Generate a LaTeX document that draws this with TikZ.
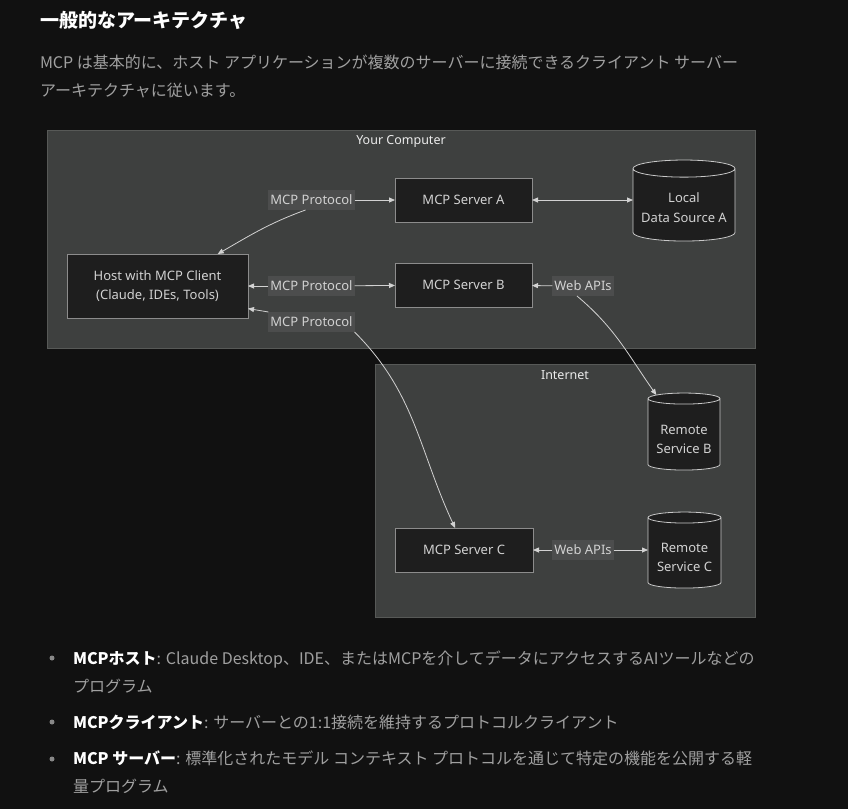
\documentclass[tikz,border=0pt]{standalone}
\usepackage{fontspec}
\setmainfont{Noto Sans}
\newfontfamily\jp{Noto Sans CJK JP}
\usepackage{tikz}
\usetikzlibrary{positioning, arrows.meta, shapes.geometric}
\definecolor{pagebg}{HTML}{111111}
\definecolor{groupbg}{HTML}{3E403F}
\definecolor{groupline}{HTML}{575957}
\definecolor{boxbg}{HTML}{1E1E1E}
\definecolor{boxline}{HTML}{8C8C8C}
\definecolor{cylline}{HTML}{C8C8C8}
\definecolor{tagbg}{HTML}{4C4D4D}
\definecolor{inktext}{HTML}{D2D2D2}
\definecolor{softtext}{HTML}{A0A0A0}
% two centred lines, drawn lower inside the cylinder body
\newcommand{\storelines}[2]{\raisebox{-#1}[\height][\depth]{\begin{tabular}{@{}c@{}}#2\end{tabular}}}

\begin{document}
\begin{tikzpicture}[
  x=1pt, y=1pt,
  node distance=41pt and 101pt,
  every node/.style={inner sep=0pt, outer sep=0pt},
  group/.style={draw=groupline, fill=groupbg, line width=0.8pt},
  grouptitle/.style={text=white!92!black, font=\fontsize{12.5}{15}\selectfont},
  server/.style={
    draw=boxline,
    fill=boxbg,
    text=inktext,
    line width=1pt,
    align=center,
    font=\fontsize{13}{19.5}\selectfont,
    minimum width=137pt,
    minimum height=44pt
  },
  store/.style={
    cylinder,
    shape border rotate=90,
    aspect=0.2,
    draw=cylline,
    fill=boxbg,
    text=inktext,
    line width=0.8pt,
    font=\fontsize{13}{19.5}\selectfont
  },
  tag/.style={fill=tagbg, text=inktext, font=\fontsize{13}{15}\selectfont, inner xsep=2pt, minimum height=20pt},
  link/.style={draw=inktext, line width=0.8pt},
  onehead/.style={-{Triangle[length=6pt,width=5pt]}},
  twoheads/.style={{Triangle[length=6pt,width=5pt]}-{Triangle[length=6pt,width=5pt]}},
  item/.style={anchor=base west, align=left, text=softtext, font=\jp\fontsize{16}{28}\selectfont}
]

% Page
\fill[pagebg] (0,0) rectangle (848,-809);
\useasboundingbox (0,0) rectangle (848,-809);

% Heading and intro (base = last line)
\node[anchor=west, text=white, font=\jp\bfseries\fontsize{19}{23}\selectfont] (title) at (40,-20) {一般的なアーキテクチャ};
\node[item] (intro) at (40,-96) {MCP は基本的に、ホスト アプリケーションが複数のサーバーに接続できるクライアント サーバー\\アーキテクチャに従います。};

% Groups
\node[group, minimum width=708pt, minimum height=218pt] (computer) at (401,-239) {};
\node[grouptitle] (computerlbl) at (401,-141) {Your Computer};
\node[group, minimum width=380pt, minimum height=253pt] (internet) at (565,-490.5) {};
\node[grouptitle] (internetlbl) at (565,-375) {Internet};

% Nodes
\node[server, minimum width=181pt, minimum height=64pt] (host) at (157.5,-286) {Host with MCP Client\\(Claude, IDEs, Tools)};
\node[server] (srvA) at (463.5,-200) {MCP Server A};
\node[server] (srvB) [below=41pt of srvA] {MCP Server B};
\node[server, minimum width=138pt] (srvC) at (464,-550) {MCP Server C};
\node[store, minimum width=102pt, minimum height=81pt] (dsA) at (684,-205) {\storelines{3.5pt}{Local\\Data Source A}};
\node[store, minimum width=72pt, minimum height=77pt] (rsB) at (684,-434.5) {\storelines{5.5pt}{Remote\\Service B}};
\node[store, minimum width=73pt, minimum height=76pt] (rsC) at (684.5,-553) {\storelines{5pt}{Remote\\Service C}};

% Edge labels
\node[tag] (pA) at (311.5,-200) {MCP Protocol};
\node[tag] (pB) at (311.5,-286) {MCP Protocol};
\node[tag] (pC) at (311.5,-322) {MCP Protocol};
\node[tag] (wB) at (583,-286) {Web APIs};
\node[tag] (wC) at (583,-550) {Web APIs};

% Arrows
\draw[link, onehead] (pA) -- (srvA);
\draw[link, onehead] ([xshift=-6pt]pA.south) to[out=200, in=30] (host.28);
\draw[link, onehead] (pB) -- (host);
\draw[link, onehead] (pB) -- (srvB);
\draw[link, onehead] (pC.north west) -- (host.-14);
\draw[link, onehead] (pC.south east) to[out=-45, in=115] (srvC.112);
\draw[link, twoheads] (srvA) -- (srvA -| dsA.west);
\draw[link, onehead] (wB) -- (srvB);
\draw[link, onehead] ([xshift=-6pt]wB.south) to[out=-40, in=125] (rsB.125);
\draw[link, onehead] (wC) -- (srvC);
\draw[link, onehead] (wC) -- (wC -| rsC.west);

% Bullet list
\foreach \y in {658,722,759} \fill[softtext!85!black] (52,-\y) circle (2.5);
\node[item] (hostitem) at (73,-692) {\textcolor{white}{\bfseries MCPホスト}: Claude Desktop、IDE、またはMCPを介してデータにアクセスするAIツールなどの\\プログラム};
\node[item] (clientitem) at (73,-728) {\textcolor{white}{\bfseries MCPクライアント}: サーバーとの1:1接続を維持するプロトコルクライアント};
\node[item] (serveritem) at (73,-792) {\textcolor{white}{\bfseries MCP サーバー}: 標準化されたモデル コンテキスト プロトコルを通じて特定の機能を公開する軽\\量プログラム};

\end{tikzpicture}
\end{document}
